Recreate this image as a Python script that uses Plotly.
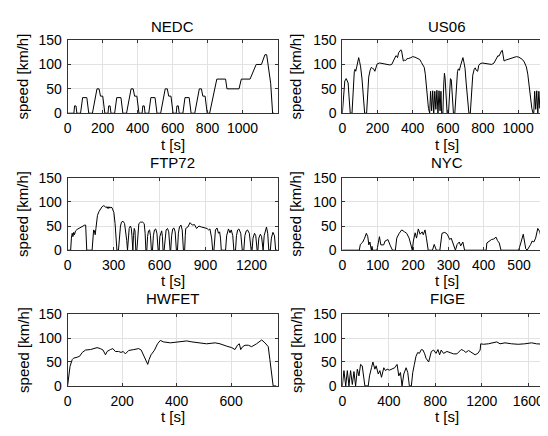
import plotly.graph_objects as go

# drive cycles: (time [s], speed [km/h])
nedc_t = [0, 36, 40, 48, 53, 74, 86, 110, 121, 142, 168, 180, 188, 201, 213,
          231, 235, 243, 248, 269, 281, 305, 316, 337, 363, 375, 383, 396, 408,
          426, 430, 438, 443, 464, 476, 500, 511, 532, 558, 570, 578, 591, 603,
          621, 625, 633, 638, 659, 671, 695, 706, 727, 753, 765, 773, 786, 798,
          812, 853, 903, 911, 980, 993, 1043, 1078, 1108, 1128, 1138, 1161, 1172, 1180]
nedc_v = [0, 0, 15, 15, 0, 0, 32, 32, 0, 0, 50, 50, 35, 35, 0,
          0, 15, 15, 0, 0, 32, 32, 0, 0, 50, 50, 35, 35, 0,
          0, 15, 15, 0, 0, 32, 32, 0, 0, 50, 50, 35, 35, 0,
          0, 15, 15, 0, 0, 32, 32, 0, 0, 50, 50, 35, 35, 0,
          0, 70, 70, 50, 50, 70, 70, 100, 100, 120, 120, 61, 0, 0]

us06_t = [0, 8, 14, 22, 28, 33, 38, 45, 55, 62, 68, 72, 76, 82, 88, 93, 98, 104, 112, 120, 127,
          138, 145, 150, 158, 165, 172, 178, 185, 192, 198, 212, 225, 250, 270, 281, 290, 300,
          305, 309, 314, 320, 328, 333, 337, 342, 347, 355, 360, 368, 375, 390, 400, 413, 425,
          435, 441, 450, 460, 466, 472, 480, 490, 497,
          502, 508, 514, 520, 526, 532, 538, 544, 550, 556, 561, 565,
          572, 577, 581, 585, 590, 596, 604, 610, 615, 620, 625, 632, 640, 648, 655, 660, 666,
          672, 680, 686, 692, 698, 705, 712, 720, 728, 735, 742, 750, 756, 762, 770, 776, 782,
          795, 810, 830, 850, 863, 872, 880, 885, 891, 898, 906, 910, 915, 920, 930, 940, 948,
          960, 975, 990, 1004, 1015, 1025, 1035, 1042, 1047, 1055, 1065, 1078, 1085,
          1089, 1094, 1100, 1106, 1112, 1118, 1124, 1130, 1136, 1142, 1148, 1154, 1160,
          1166, 1172]
us06_v = [0, 40, 66, 71, 65, 62, 35, 0, 0, 55, 85, 90, 86, 95, 105, 114, 106, 95, 70, 30, 0,
          0, 55, 74, 88, 94, 92, 91, 86, 97, 101, 103, 102, 100, 99, 100, 107, 112,
          118, 117, 114, 124, 127, 130, 128, 112, 107, 109, 108, 112, 112, 114, 116, 115, 113,
          112, 110, 104, 97, 94, 80, 45, 10, 0,
          45, 5, 46, 0, 45, 8, 47, 0, 46, 5, 45, 0,
          0, 60, 82, 70, 30, 0, 0, 55, 71, 68, 40, 0, 0, 60, 85, 91, 88,
          97, 108, 114, 104, 92, 60, 25, 0, 0, 55, 78, 90, 93, 88, 86, 98, 101,
          103, 102, 100, 100, 103, 110, 114, 118, 117, 124, 128, 129, 110, 107, 109, 110, 112,
          113, 115, 116, 115, 112, 110, 105, 98, 95, 80, 45, 10, 0,
          0, 45, 8, 46, 0, 45, 10, 47, 0, 46, 8, 45, 0,
          0, 70]

ftp72_t = [0, 20, 25, 30, 35, 40, 45, 52, 62, 72, 85, 100, 112, 118, 122, 125,
           160, 165, 170, 175, 180, 185, 195, 205, 215, 225, 235, 243, 250, 258, 264, 270,
           276, 282, 290, 296, 302, 310, 316, 322,
           332, 338, 345, 352, 362, 372, 380, 386, 391,
           396, 402, 410, 416, 420, 424,
           426, 430, 435, 440, 445,
           452, 458, 465, 475, 490, 500, 506, 511,
           517, 522, 528, 535, 541, 547,
           554, 560, 567, 575, 583, 591,
           597, 602, 608, 614, 619, 623,
           630, 636, 643, 652, 660, 669,
           673, 679, 686, 694, 702, 710,
           717, 723, 730, 740, 748, 756,
           764, 768, 771, 785, 799, 814, 828, 842, 857, 873, 890, 910, 920, 929, 940, 947,
           955, 960, 965, 975, 985, 992, 998, 1003,
           1031, 1038, 1050, 1060, 1068, 1078, 1085,
           1096, 1102, 1110, 1118, 1130, 1140,
           1150, 1157, 1166, 1174, 1186, 1198,
           1204, 1210, 1220, 1228, 1237,
           1242, 1248, 1258, 1266, 1274,
           1276, 1283, 1292, 1298, 1306, 1313,
           1323, 1330, 1340, 1350, 1358, 1369]
ftp72_v = [0, 0, 25, 35, 28, 37, 32, 40, 43, 45, 48, 50, 52, 52, 30, 0,
           0, 30, 42, 40, 32, 45, 72, 80, 86, 90, 92, 91, 88, 90, 86, 90,
           87, 89, 88, 84, 78, 55, 25, 0,
           0, 30, 50, 58, 60, 55, 40, 20, 0,
           30, 45, 50, 45, 30, 0,
           0, 30, 45, 40, 0,
           0, 35, 55, 58, 58, 55, 35, 0,
           0, 28, 40, 42, 30, 0,
           0, 30, 42, 44, 35, 0,
           0, 28, 38, 40, 28, 0,
           0, 30, 42, 45, 38, 0,
           0, 30, 44, 46, 38, 0,
           0, 35, 48, 52, 42, 0,
           0, 30, 45, 48, 57, 52, 53, 45, 50, 48, 46, 45, 42, 44, 25, 0,
           0, 30, 42, 46, 35, 38, 25, 0,
           0, 30, 44, 36, 42, 30, 0,
           0, 30, 42, 44, 35, 0,
           0, 30, 40, 42, 35, 0,
           0, 25, 35, 30, 0,
           0, 25, 33, 28, 0,
           0, 30, 42, 48, 35, 0,
           0, 25, 37, 30, 0, 0]

nyc_t = [0, 48, 51, 58, 63, 68, 72, 75, 78, 82, 84, 86,
         98, 105, 109, 117, 121, 129, 136, 142,
         150, 154, 161, 168, 176, 182, 189, 193, 198,
         201, 206, 210, 215, 220, 226, 229, 234, 238, 243,
         255, 260, 266, 276, 282, 290, 297, 304, 308, 313, 320,
         325, 331, 335, 341, 346,
         407, 409, 416, 422, 428, 435, 439, 444, 449,
         499, 505, 512, 519, 523, 533, 537, 542, 547, 553, 559, 565, 570, 598]
nyc_v = [0, 0, 12, 17, 25, 35, 28, 11, 17, 0, 8, 0,
         0, 28, 11, 11, 19, 22, 9, 0,
         0, 25, 35, 42, 38, 35, 25, 15, 0,
         19, 36, 25, 44, 33, 38, 32, 42, 25, 0,
         0, 12, 0, 0, 35, 37, 33, 22, 25, 15, 0,
         12, 17, 9, 17, 0,
         0, 15, 19, 22, 23, 27, 20, 15, 0,
         0, 15, 33, 3, 0, 12, 19, 17, 25, 45, 38, 15, 0, 0]

hwfet_t = [0, 5, 9, 17, 22, 35, 44, 54, 66, 84, 96, 108, 120, 130, 139, 145, 157, 166,
           175, 187, 196, 204, 212, 224, 243, 261, 270, 279, 288, 294, 299, 306, 318, 330,
           340, 352, 377, 401, 419, 437, 456, 480, 510, 541, 559, 584, 602, 614, 623, 630,
           635, 642, 651, 663, 675, 693, 712, 724, 736, 742, 754, 765]
hwfet_v = [0, 28, 41, 55, 58, 60, 62, 70, 75, 76, 78, 80, 78, 75, 65, 72, 76, 78,
           72, 72, 70, 72, 67, 74, 76, 78, 75, 65, 52, 45, 55, 65, 74, 88,
           95, 92, 90, 92, 94, 94, 92, 90, 88, 90, 88, 83, 80, 76, 85, 88,
           76, 82, 85, 85, 82, 88, 96, 90, 82, 55, 0, 0]

fige_t = [0, 14, 29, 43, 57, 71, 86, 100, 114, 129, 143, 157, 171, 194, 223, 234, 251, 263,
          280, 291, 309, 323, 337, 357, 371, 386, 406, 429, 451, 471, 486, 500, 514, 529,
          549, 563, 577, 594, 606, 620, 634, 649, 663, 680, 694, 709, 720, 743, 766, 786,
          806, 823, 837, 851, 871, 900, 929, 957, 986, 1006, 1023, 1043, 1063, 1086, 1114,
          1143, 1166, 1186, 1191, 1214, 1257, 1300, 1329, 1357, 1400, 1457, 1514, 1571,
          1629, 1671, 1714, 1771, 1800]
fige_v = [0, 32, 0, 32, 0, 32, 3, 30, 0, 35, 21, 45, 42, 0, 0, 21, 38, 50,
          35, 42, 25, 32, 18, 38, 32, 35, 33, 35, 38, 45, 21, 28, 0, 25,
          38, 28, 0, 0, 28, 45, 62, 70, 68, 76, 75, 67, 58, 50, 72, 75,
          68, 76, 65, 75, 68, 72, 70, 67, 67, 72, 76, 74, 70, 74, 70,
          65, 68, 75, 88, 87, 88, 90, 92, 88, 90, 88, 87, 88,
          90, 88, 87, 86, 86]

titles = ["NEDC", "US06", "FTP72", "NYC", "HWFET", "FIGE"]
series = [(nedc_t, nedc_v), (us06_t, us06_v), (ftp72_t, ftp72_v),
          (nyc_t, nyc_v), (hwfet_t, hwfet_v), (fige_t, fige_v)]
x_ranges = [[0, 1200], [0, 1170], [0, 1370], [0, 582], [0, 770], [0, 1770]]
x_ticks = [[0, 200, 400, 600, 800, 1000], [0, 200, 400, 600, 800, 1000],
           [0, 300, 600, 900, 1200], [0, 100, 200, 300, 400, 500],
           [0, 200, 400, 600], [0, 400, 800, 1200, 1600]]
y_ticks = [0, 50, 100, 150]

# page has an 8px body margin, so the figure is 8px smaller and everything shifted
OFF = 8
W, H = 548 - OFF, 436 - OFF
col_px = [(64, 275.5), (340.8, 548)]
row_px = [(33, 109), (176, 251.3), (317.7, 392.3)]
xlabel_y = [141, 283, 424]
title_y = [19, 160, 301]
ylabel_x = [19, 294]


def px(x):
    return (x - OFF) / W


def py(y):
    return 1 - (y - OFF) / H


tick_font = dict(family="Liberation Sans, Arial, sans-serif", size=14, color="black")
label_font = dict(family="Liberation Sans, Arial, sans-serif", size=15, color="black")

fig = go.Figure()
annotations = []
for i, (name, (t, v)) in enumerate(zip(titles, series)):
    r, c = divmod(i, 2)
    n = str(i + 1) if i else ""
    x0, x1 = col_px[c]
    y0, y1 = row_px[r]
    fig.add_trace(go.Scatter(x=t, y=v, mode="lines", line=dict(color="black", width=1),
                             xaxis="x" + n, yaxis="y" + n, showlegend=False))
    fig.layout["xaxis" + n] = dict(
        domain=[px(x0), px(x1)], anchor="y" + n, range=x_ranges[i], tickvals=x_ticks[i],
        showgrid=True, gridcolor="#e2e2e2", gridwidth=1, zeroline=False,
        showline=True, linecolor="#333333", linewidth=1, mirror="ticks",
        ticks="inside", ticklen=3, tickcolor="#333333", ticklabelstandoff=2, tickfont=tick_font)
    fig.layout["yaxis" + n] = dict(
        domain=[py(y1), py(y0)], anchor="x" + n, range=[0, 150], tickvals=y_ticks,
        showgrid=True, gridcolor="#e2e2e2", gridwidth=1, zeroline=False,
        showline=True, linecolor="#333333", linewidth=1, mirror="ticks" if c == 0 else False,
        ticks="inside", ticklen=3, tickcolor="#333333", ticklabelstandoff=2, tickfont=tick_font)
    xc = px((x0 + x0 + 211.5) / 2)
    annotations.append(dict(text=name, x=xc, y=py(title_y[r]), xref="paper", yref="paper",
                            showarrow=False, font=label_font, xanchor="center", yanchor="middle"))
    annotations.append(dict(text="t [s]", x=xc, y=py(xlabel_y[r]), xref="paper", yref="paper",
                            showarrow=False, font=label_font, xanchor="center", yanchor="middle"))
    annotations.append(dict(text="speed [km/h]", x=px(ylabel_x[c]), y=py((y0 + y1) / 2),
                            xref="paper", yref="paper", textangle=-90, showarrow=False,
                            font=label_font, xanchor="center", yanchor="middle"))

fig.update_layout(width=W, height=H, margin=dict(l=0, r=0, t=0, b=0),
                  paper_bgcolor="white", plot_bgcolor="white", annotations=annotations,
                  font=tick_font)
fig.write_html("out.html")
